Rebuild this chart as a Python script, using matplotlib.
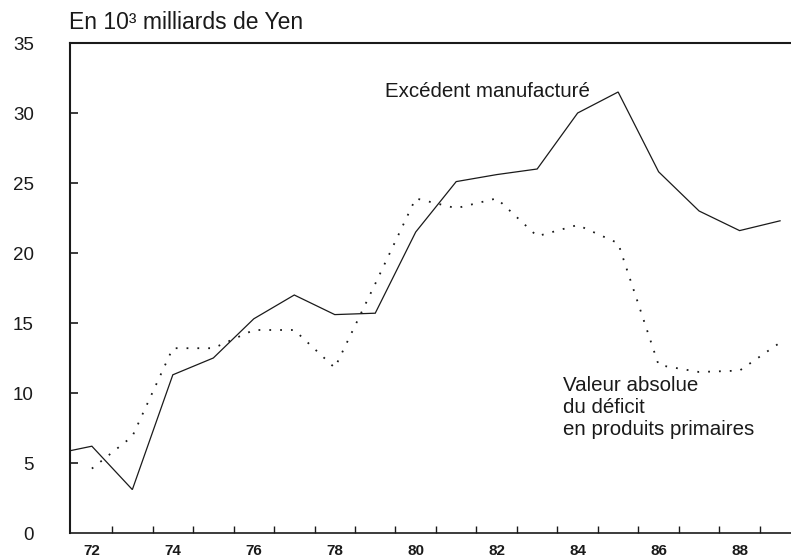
import matplotlib
matplotlib.use("Agg")
import matplotlib.pyplot as plt
from matplotlib.ticker import FixedLocator, NullFormatter

plt.rcParams['font.family'] = ['Liberation Sans', 'DejaVu Sans']

years_manuf = [71, 72, 73, 74, 75, 76, 77, 78, 79, 80, 81, 82, 83, 84, 85, 86, 87, 88, 89]
excedent_manuf = [5.6, 6.2, 3.1, 11.3, 12.5, 15.3, 17.0, 15.6, 15.7, 21.5, 25.1, 25.6, 26.0,
                  30.0, 31.5, 25.8, 23.0, 21.6, 22.3]

years_prim = [72, 73, 74, 75, 76, 77, 78, 79, 80, 81, 82, 83, 84, 85, 86, 87, 88, 89]
deficit_prim = [4.6, 6.9, 13.2, 13.2, 14.5, 14.5, 11.8, 17.8, 23.9, 23.2, 23.9, 21.2, 22.0,
                20.7, 12.0, 11.5, 11.6, 13.6]

xtick_years = [72, 74, 76, 78, 80, 82, 84, 86, 88]
xtick_labels = ["72", "74", "76", "78", "80", "82", "84", "86", "88"]
minor_ticks = [72.5 + i for i in range(17)]
ytick_values = [0, 5, 10, 15, 20, 25, 30, 35]

W, H = 791, 559
fig = plt.figure(figsize=(W / 100, H / 100), dpi=100)
ax = fig.add_axes([70 / W, 1 - 533 / H, 1 - 70 / W, (533 - 43) / H])

ink = '#1a1a1a'
ax.plot(years_manuf, excedent_manuf, color=ink, lw=0.9, solid_joinstyle='miter')
ax.plot(years_prim, deficit_prim, color=ink, lw=1.3, linestyle=(0, (1, 5)))

ax.set_xlim(71.46, 89.27)
ax.set_ylim(0, 35)

for s in ['left', 'top']:
    ax.spines[s].set_linewidth(1.5)
ax.spines['bottom'].set_linewidth(1.2)
ax.spines['right'].set_visible(False)
for s in ['left', 'top', 'bottom']:
    ax.spines[s].set_color(ink)

ax.set_yticks(ytick_values)
ax.set_yticklabels([str(v) for v in ytick_values])
ax.tick_params(axis='y', direction='in', length=6, width=1.2, pad=26, labelsize=13.5,
               colors=ink)
ax.yaxis.get_major_ticks()[0].tick1line.set_visible(False)
ax.yaxis.get_major_ticks()[-1].tick1line.set_visible(False)

ax.set_xticks(xtick_years)
ax.set_xticklabels(xtick_labels, fontweight='bold')
ax.tick_params(axis='x', which='major', length=0, pad=8, labelsize=11, colors=ink)
ax.xaxis.set_minor_locator(FixedLocator(minor_ticks))
ax.xaxis.set_minor_formatter(NullFormatter())
ax.tick_params(axis='x', which='minor', direction='in', length=5, width=1.0, colors=ink)

def ftext(x, y, s, **kw):
    fig.text(x / W, 1 - y / H, s, va='baseline', ha='left', color=ink, **kw)

ftext(69, 29, "En 10³ milliards de Yen", fontsize=16.5)
ftext(385, 97, "Excédent manufacturé", fontsize=14.8)
ftext(563, 391, "Valeur absolue", fontsize=14.8)
ftext(563, 413, "du déficit", fontsize=14.8)
ftext(563, 435, "en produits primaires", fontsize=14.8)

fig.savefig("out.png", dpi=100)
